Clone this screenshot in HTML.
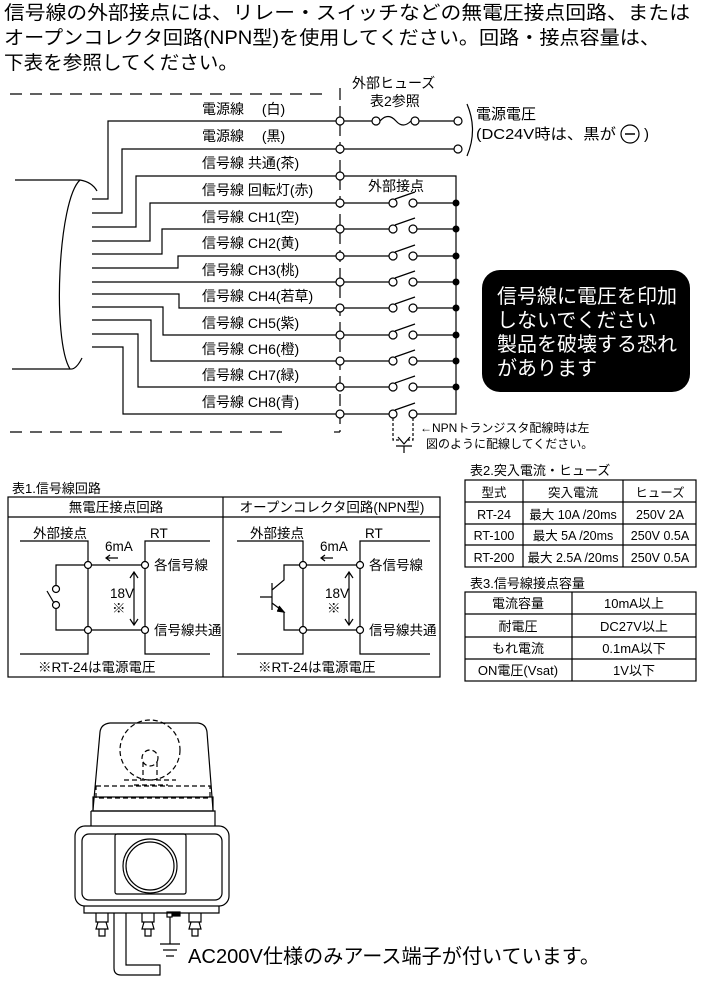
<!DOCTYPE html>
<html><head><meta charset="utf-8"><style>
html,body{margin:0;padding:0;background:#fff}
svg{display:block}
text{font-family:"Liberation Sans","Noto Sans CJK JP",sans-serif;fill:#000}
</style></head><body>
<svg width="706" height="991" viewBox="0 0 706 991" xmlns="http://www.w3.org/2000/svg">
<g font-size="19">
<text x="4" y="19" textLength="686" lengthAdjust="spacingAndGlyphs">信号線の外部接点には、リレー・スイッチなどの無電圧接点回路、または</text>
<text x="4" y="44" textLength="656" lengthAdjust="spacingAndGlyphs">オープンコレクタ回路(NPN型)を使用してください。回路・接点容量は、</text>
<text x="4" y="69" textLength="234" lengthAdjust="spacingAndGlyphs">下表を参照してください。</text>
</g>
<g stroke="#000" fill="none" stroke-width="1.2">
<line x1="10" y1="94" x2="330" y2="94" stroke-dasharray="12,8"/>
<line x1="10" y1="432" x2="285" y2="432" stroke-dasharray="12,8"/>
<line x1="340" y1="88" x2="340" y2="432" stroke-dasharray="12,6"/>
<line x1="340" y1="432" x2="334" y2="432"/>
<path d="M15,180 L80,180 Q92,182 97,191"/>
<path d="M80,180 C58,200 52,340 70,369 Q76,370 82,358"/>
<path d="M12,369 L70,369"/>
<path d="M92,199 H108 V121 H340"/>
<path d="M92,213 H122 V149 H340"/>
<path d="M92,227 H136 V176 H340"/>
<path d="M92,241 H150 V203 H340"/>
<path d="M92,254 H162 V229 H340"/>
<path d="M92,268 H178 V256 H340"/>
<path d="M92,282 H340"/>
<path d="M92,294 H179 V308 H340"/>
<path d="M92,307 H163 V335 H340"/>
<path d="M92,320 H151 V361 H340"/>
<path d="M92,334 H138 V387 H340"/>
<path d="M92,347 H123 V414 H340"/>
<path d="M344,121 H372 M380,121 Q388,112 396,121 Q403,129 411,121 M419,121 H454"/>
<circle cx="376" cy="121" r="4" fill="#fff"/><circle cx="415" cy="121" r="4" fill="#fff"/>
<circle cx="458" cy="121" r="4" fill="#fff"/>
<path d="M344,149 H454"/><circle cx="458" cy="149" r="4" fill="#fff"/>
<path d="M467,104 Q478,130 467,156"/>
<path d="M344,176 H456 V414 H417"/>
</g>
<g stroke="#000" fill="none" stroke-width="1.2">
<path d="M344,203 H389 M417,203 H456"/><circle cx="393" cy="203" r="4" fill="#fff"/><circle cx="413" cy="203" r="4" fill="#fff"/><path d="M395,199 L415,192"/>
<path d="M344,229 H389 M417,229 H456"/><circle cx="393" cy="229" r="4" fill="#fff"/><circle cx="413" cy="229" r="4" fill="#fff"/><path d="M395,225 L415,218"/>
<path d="M344,256 H389 M417,256 H456"/><circle cx="393" cy="256" r="4" fill="#fff"/><circle cx="413" cy="256" r="4" fill="#fff"/><path d="M395,252 L415,245"/>
<path d="M344,282 H389 M417,282 H456"/><circle cx="393" cy="282" r="4" fill="#fff"/><circle cx="413" cy="282" r="4" fill="#fff"/><path d="M395,278 L415,271"/>
<path d="M344,308 H389 M417,308 H456"/><circle cx="393" cy="308" r="4" fill="#fff"/><circle cx="413" cy="308" r="4" fill="#fff"/><path d="M395,304 L415,297"/>
<path d="M344,335 H389 M417,335 H456"/><circle cx="393" cy="335" r="4" fill="#fff"/><circle cx="413" cy="335" r="4" fill="#fff"/><path d="M395,331 L415,324"/>
<path d="M344,361 H389 M417,361 H456"/><circle cx="393" cy="361" r="4" fill="#fff"/><circle cx="413" cy="361" r="4" fill="#fff"/><path d="M395,357 L415,350"/>
<path d="M344,387 H389 M417,387 H456"/><circle cx="393" cy="387" r="4" fill="#fff"/><circle cx="413" cy="387" r="4" fill="#fff"/><path d="M395,383 L415,376"/>
<path d="M344,414 H389"/><circle cx="393" cy="414" r="4" fill="#fff"/><circle cx="413" cy="414" r="4" fill="#fff"/><path d="M395,410 L415,403"/>
<path d="M393,418 V440 H400 M413,418 V440 H408" stroke-dasharray="3,2"/>
<path d="M398,437 L404,444 L410,437 M396,446 H412 M404,446 V453"/>
<g fill="#fff">
<circle cx="340" cy="121" r="4"/><circle cx="340" cy="149" r="4"/><circle cx="340" cy="176" r="4"/>
<circle cx="340" cy="203" r="4"/><circle cx="340" cy="229" r="4"/><circle cx="340" cy="256" r="4"/>
<circle cx="340" cy="282" r="4"/><circle cx="340" cy="308" r="4"/><circle cx="340" cy="335" r="4"/>
<circle cx="340" cy="361" r="4"/><circle cx="340" cy="387" r="4"/><circle cx="340" cy="414" r="4"/>
</g>
</g>
<g fill="#000">
<circle cx="456" cy="203" r="3.5"/><circle cx="456" cy="229" r="3.5"/><circle cx="456" cy="256" r="3.5"/>
<circle cx="456" cy="282" r="3.5"/><circle cx="456" cy="308" r="3.5"/><circle cx="456" cy="335" r="3.5"/>
<circle cx="456" cy="361" r="3.5"/><circle cx="456" cy="387" r="3.5"/>
</g>
<g font-size="14">
<text x="202" y="114">電源線　 (白)</text>
<text x="202" y="141">電源線　 (黒)</text>
<text x="202" y="168">信号線 共通(茶)</text>
<text x="202" y="195">信号線 回転灯(赤)</text>
<text x="202" y="222">信号線 CH1(空)</text>
<text x="202" y="248">信号線 CH2(黄)</text>
<text x="202" y="275">信号線 CH3(桃)</text>
<text x="202" y="301">信号線 CH4(若草)</text>
<text x="202" y="328">信号線 CH5(紫)</text>
<text x="202" y="354">信号線 CH6(橙)</text>
<text x="202" y="380">信号線 CH7(緑)</text>
<text x="202" y="407">信号線 CH8(青)</text>
<text x="352" y="88">外部ヒューズ</text>
<text x="370" y="106">表2参照</text>
<text x="368" y="191">外部接点</text>
<text x="476" y="119" font-size="15">電源電圧</text>
<text x="476" y="139" font-size="15" textLength="140" lengthAdjust="spacingAndGlyphs">(DC24V時は、黒が</text>
</g>
<circle cx="630" cy="134" r="9" fill="none" stroke="#000" stroke-width="1.2"/>
<line x1="625" y1="134" x2="635" y2="134" stroke="#000" stroke-width="1.5"/>
<text x="644" y="139" font-size="15">)</text>
<g font-size="12">
<text x="420" y="432">←NPNトランジスタ配線時は左</text>
<text x="426" y="448">図のように配線してください。</text>
</g>
<rect x="482" y="270" width="208" height="122" rx="18" fill="#000"/>
<g font-size="20">
<text x="497" y="303" style="fill:#fff">信号線に電圧を印加</text>
<text x="497" y="327" style="fill:#fff">しないでください</text>
<text x="497" y="351" style="fill:#fff">製品を破壊する恐れ</text>
<text x="497" y="375" style="fill:#fff">があります</text>
</g>
<text x="12" y="493" font-size="13">表1.信号線回路</text>
<g stroke="#000" fill="none" stroke-width="1.2">
<rect x="8" y="497" width="432" height="180"/>
<line x1="8" y1="517" x2="440" y2="517"/>
<line x1="223" y1="497" x2="223" y2="677"/>
<path d="M20,541 H88 V654 H20 M210,541 H145 V654 H210"/>
<path d="M88,565 H145 M88,630 H145"/>
<path d="M88,565 H56 V585 M56,609 V630 H88"/>
<circle cx="56" cy="589" r="3.5" fill="#fff"/><circle cx="56" cy="605" r="3.5" fill="#fff"/>
<path d="M54,603 L47,591"/>
<path d="M134,572 V625 M130,578 L134,572 L138,578 M130,619 L134,625 L138,619"/>
<path d="M106,558 H118 M110,555 L106,558 L110,561"/>
<circle cx="88" cy="565" r="3.5" fill="#fff"/><circle cx="145" cy="565" r="3.5" fill="#fff"/>
<circle cx="88" cy="630" r="3.5" fill="#fff"/><circle cx="145" cy="630" r="3.5" fill="#fff"/>
<path d="M237,541 H303 V654 H237 M430,541 H360 V654 H430"/>
<path d="M303,565 H360 M303,630 H360"/>
<path d="M303,565 H284 V580 L272,590 M272,583 V610 M260,597 H272 M272,603 L284,612 V630 H303"/>
<path d="M279,606 L284,612 L277,611" fill="#000"/>
<path d="M349,572 V625 M345,578 L349,572 L353,578 M345,619 L349,625 L353,619"/>
<path d="M321,558 H333 M325,555 L321,558 L325,561"/>
<circle cx="303" cy="565" r="3.5" fill="#fff"/><circle cx="360" cy="565" r="3.5" fill="#fff"/>
<circle cx="303" cy="630" r="3.5" fill="#fff"/><circle cx="360" cy="630" r="3.5" fill="#fff"/>
</g>
<g font-size="13.5">
<text x="116" y="512" text-anchor="middle">無電圧接点回路</text>
<text x="332" y="512" text-anchor="middle">オープンコレクタ回路(NPN型)</text>
<text x="33" y="538">外部接点</text><text x="150" y="538">RT</text>
<text x="105" y="551">6mA</text>
<text x="154" y="570">各信号線</text><text x="154" y="635">信号線共通</text>
<text x="110" y="598">18V</text><text x="112" y="613">※</text>
<text x="38" y="672">※RT-24は電源電圧</text>
<text x="250" y="538">外部接点</text><text x="365" y="538">RT</text>
<text x="320" y="551">6mA</text>
<text x="369" y="570">各信号線</text><text x="369" y="635">信号線共通</text>
<text x="325" y="598">18V</text><text x="327" y="613">※</text>
<text x="258" y="672">※RT-24は電源電圧</text>
</g>
<text x="470" y="475" font-size="13">表2.突入電流・ヒューズ</text>
<g stroke="#000" fill="none" stroke-width="1.2">
<rect x="465" y="480" width="231" height="87"/>
<line x1="465" y1="502" x2="696" y2="502"/><line x1="465" y1="524" x2="696" y2="524"/><line x1="465" y1="545" x2="696" y2="545"/>
<line x1="523" y1="480" x2="523" y2="567"/><line x1="623" y1="480" x2="623" y2="567"/>
</g>
<g font-size="12.5" text-anchor="middle">
<text x="494" y="497">型式</text><text x="573" y="497">突入電流</text><text x="660" y="497">ヒューズ</text>
<text x="494" y="519">RT-24</text><text x="573" y="519">最大 10A /20ms</text><text x="660" y="519">250V 2A</text>
<text x="494" y="540">RT-100</text><text x="573" y="540">最大 5A /20ms</text><text x="660" y="540">250V 0.5A</text>
<text x="494" y="562">RT-200</text><text x="573" y="562">最大 2.5A /20ms</text><text x="660" y="562">250V 0.5A</text>
</g>
<text x="470" y="588" font-size="13">表3.信号線接点容量</text>
<g stroke="#000" fill="none" stroke-width="1.2">
<rect x="465" y="592" width="231" height="89"/>
<line x1="465" y1="614" x2="696" y2="614"/><line x1="465" y1="637" x2="696" y2="637"/><line x1="465" y1="659" x2="696" y2="659"/>
<line x1="572" y1="592" x2="572" y2="681"/>
</g>
<g font-size="13" text-anchor="middle">
<text x="518" y="608">電流容量</text><text x="634" y="608">10mA以上</text>
<text x="518" y="631">耐電圧</text><text x="634" y="631">DC27V以上</text>
<text x="518" y="653">もれ電流</text><text x="634" y="653">0.1mA以下</text>
<text x="518" y="675">ON電圧(Vsat)</text><text x="634" y="675">1V以下</text>
</g>
<g stroke="#000" fill="none" stroke-width="1.2">
<path d="M93,810 L100,732 Q101,724 110,723 L198,723 Q206,724 207,732 L213,810"/>
<rect x="93" y="797" width="120" height="14"/>
<path d="M91,811 H215 V826 M91,811 V826"/>
<rect x="75" y="826" width="154" height="80" rx="10"/>
<rect x="82" y="834" width="140" height="66" rx="7"/>
<rect x="115" y="834" width="71" height="60" rx="2"/>
<circle cx="150" cy="866" r="27"/><circle cx="150" cy="866" r="24"/>
<path d="M84,906 V913 H219 V906"/>
<g stroke-dasharray="5,3">
<circle cx="150" cy="750" r="30"/>
<rect x="96" y="786" width="114" height="12"/>
<path d="M124,780 H176 M134,785 H168 M143,762 V780 M157,762 V780"/>
<circle cx="150" cy="758" r="8"/>
</g>
<path d="M96,913 V922 H108 V913 M98,922 L96,929 H108 L106,922 M99,929 V936 H105 V929"/>
<path d="M142,913 V922 H154 V913 M144,922 L142,929 H154 L152,922 M145,929 V936 H151 V929"/>
<path d="M189,913 V922 H201 V913 M191,922 L189,929 H201 L199,922 M192,929 V936 H198 V929"/>
<path d="M114,913 V968 Q114,975 121,975 H160 V965 H126 V913"/>
<rect x="167" y="912" width="5" height="5"/><rect x="173" y="912" width="7" height="4" fill="#000"/>
<path d="M170,917 V944 M160,944 H180 M163,950 H177 M166,956 H174"/>
</g>
<text x="188" y="963" font-size="20" textLength="412" lengthAdjust="spacingAndGlyphs">AC200V仕様のみアース端子が付いています。</text>
</svg>
</body></html>
